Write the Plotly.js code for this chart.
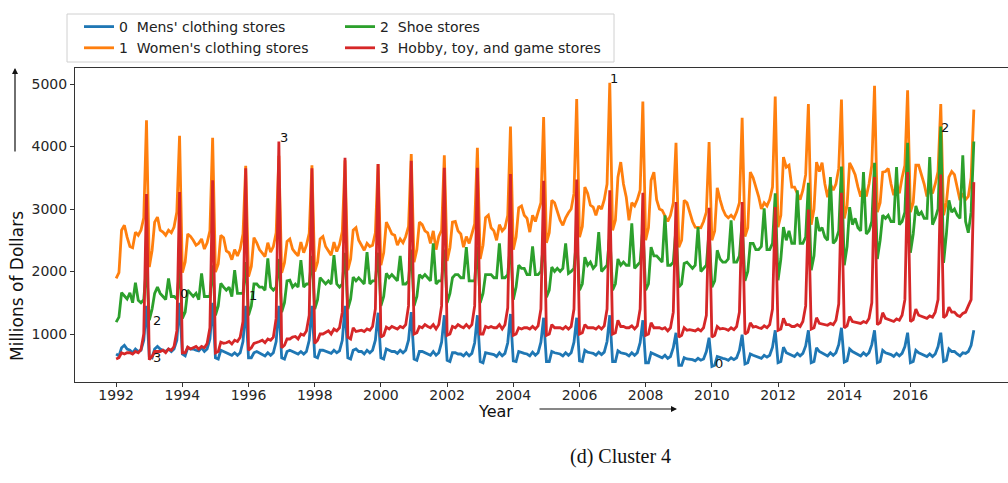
<!DOCTYPE html>
<html><head><meta charset="utf-8">
<script src="https://cdn.plot.ly/plotly-3.0.1.min.js"></script>
<style>html,body{margin:0;padding:0;background:#fff;overflow:hidden}#chart{width:1008px;height:483px}</style>
</head><body><div id="chart"></div>
<script>
// ---- data (monthly, Jan..Dec, millions of dollars) ----
const years = [1992,1993,1994,1995,1996,1997,1998,1999,2000,2001,2002,2003,2004,2005,2006,2007,2008,2009,2010,2011,2012,2013,2014,2015,2016,2017];
const seriesNames = ["0\u00a0\u00a0Mens' clothing stores", "1\u00a0\u00a0Women's clothing stores", "2\u00a0\u00a0Shoe stores", "3\u00a0\u00a0Hobby, toy, and game stores"];
const tickYears = [1992,1994,1996,1998,2000,2002,2004,2006,2008,2010,2012,2014,2016];
const yTicks = [1000,2000,3000,4000,5000];

const mens = [
 680,650,780,820,760,740,700,760,720,740,900,1450,
 640,620,760,800,760,740,720,760,720,760,900,1500,
 680,650,780,760,760,740,730,780,720,760,920,1500,
 620,600,740,720,700,680,660,700,660,700,880,1450,
 620,620,700,720,700,680,650,700,660,700,880,1450,
 620,600,720,740,720,700,680,720,680,720,900,1450,
 640,620,740,740,720,700,690,740,700,730,900,1450,
 620,600,740,760,720,720,680,740,700,740,900,1340,
 620,600,760,740,720,720,690,740,700,740,900,1350,
 600,580,720,720,700,690,660,720,660,700,870,1300,
 580,560,700,700,680,680,650,700,650,690,860,1300,
 560,540,700,690,680,670,640,700,650,690,860,1320,
 570,560,720,700,690,680,650,710,660,700,870,1260,
 560,560,720,700,690,680,650,700,660,700,870,1260,
 570,560,740,710,700,690,660,710,670,710,880,1300,
 560,560,730,700,690,680,650,700,660,700,860,1220,
 540,540,700,680,660,650,620,660,610,640,780,1020,
 500,500,620,600,600,590,570,610,580,600,720,940,
 480,500,640,620,610,600,580,620,590,620,740,990,
 520,540,680,660,640,630,610,660,630,660,790,1060,
 540,560,790,700,680,660,640,690,650,690,810,1060,
 540,560,780,720,700,680,650,700,660,700,830,1100,
 550,570,760,720,700,680,650,700,660,700,830,1060,
 540,560,740,700,690,670,640,690,650,690,800,1020,
 540,560,740,700,680,660,640,680,640,680,800,1020,
 560,580,760,720,720,680,650,700,690,720,820,1060
];
const womens = [
 1890,1980,2660,2740,2550,2400,2380,2630,2580,2660,2860,4420,
 2070,2340,2790,2870,2660,2630,2580,2660,2620,2710,2950,4170,
 1980,2150,2600,2560,2500,2420,2450,2520,2360,2460,2650,4140,
 1990,2120,2580,2540,2330,2300,2190,2350,2250,2360,2600,3690,
 1920,2080,2540,2460,2350,2290,2240,2460,2310,2400,2620,3850,
 1980,2140,2480,2520,2360,2300,2250,2470,2300,2420,2610,3700,
 2000,2150,2520,2560,2400,2330,2260,2470,2320,2430,2640,3780,
 2020,2200,2660,2700,2500,2420,2340,2450,2400,2420,2620,3720,
 2100,2300,2790,2700,2600,2580,2420,2520,2460,2560,2720,3880,
 2150,2350,2790,2750,2650,2620,2450,2650,2350,2560,2660,3860,
 2170,2380,2790,2800,2650,2600,2390,2560,2450,2600,2760,3980,
 2200,2420,2860,2900,2700,2650,2500,2750,2650,2700,2900,4320,
 2350,2550,3020,3050,2900,2850,2630,2900,2800,2950,3100,4470,
 2460,2620,3140,3100,2950,2820,2740,2860,2940,3000,3250,4760,
 2550,2720,3350,3250,3060,3030,2900,3050,3000,3150,3400,5020,
 2660,2820,3510,3750,3400,3190,2820,3100,3050,3150,3300,4720,
 2500,2700,3460,3590,3150,3000,2980,2900,2800,2900,3100,4060,
 2390,2500,3140,3100,2950,2800,2710,2700,2700,2800,2950,4070,
 2500,2650,3340,3150,3000,2900,2860,2900,2850,2950,3100,4460,
 2560,2700,3590,3500,3350,3200,3000,3100,3050,3150,3350,4800,
 2710,2900,3830,3670,3700,3350,3350,3250,3150,3300,3550,4680,
 2750,3000,3750,3600,3740,3400,3190,3400,3300,3400,3650,4750,
 2850,3050,3740,3650,3550,3350,3200,3350,3200,3400,3700,4970,
 2950,3100,3590,3600,3650,3400,3220,3400,3250,3500,3700,4900,
 2950,3100,3700,3700,3550,3400,3200,3300,3250,3400,3600,4680,
 2900,3100,3510,3600,3550,3350,3140,3250,3150,3200,3500,4590
];
const shoes = [
 1190,1270,1660,1600,1560,1660,1500,1820,1540,1500,1550,2100,
 1220,1400,1650,1750,1650,1600,1550,1890,1600,1600,1560,2050,
 1250,1350,1700,1650,1600,1650,1550,1970,1600,1600,1600,2100,
 1300,1450,1810,1750,1700,1750,1600,2020,1650,1650,1650,2150,
 1300,1450,1800,1800,1750,1750,1700,2210,1750,1700,1750,2200,
 1350,1500,1850,1860,1750,1800,1750,2180,1750,1800,1800,2250,
 1400,1550,1900,1850,1800,1850,1800,2260,1800,1750,1800,2300,
 1400,1560,1910,1850,1900,1850,1800,2310,1800,1850,1850,2300,
 1450,1600,1970,1900,1950,1900,1850,2250,1800,1800,1850,2350,
 1450,1600,1950,1900,1950,1900,1850,2450,1800,1850,1850,2350,
 1500,1650,1900,1950,1950,1900,1900,2390,1850,1850,1850,2400,
 1500,1650,1950,1950,1950,1900,1900,2450,1900,1900,1950,2450,
 1550,1750,2100,2050,2050,1950,1950,2400,1950,1950,2000,2500,
 1590,1700,2070,2000,2050,2000,2050,2450,1970,2000,2050,2550,
 1700,1800,2230,2100,2150,2050,2100,2630,2000,2050,2100,2600,
 1700,1800,2200,2100,2150,2100,2100,2770,2050,2100,2150,2700,
 1700,1800,2390,2250,2250,2200,2150,2900,2100,2100,2150,2700,
 1750,1800,2130,2150,2100,2050,2100,2710,2000,2050,2100,2650,
 1750,1850,2340,2200,2150,2150,2200,2820,2150,2150,2250,2800,
 1850,2000,2450,2450,2350,2350,2400,3010,2350,2350,2450,3250,
 1860,2200,2710,2500,2650,2450,2450,3300,2450,2450,2550,3420,
 2020,2250,2870,2650,2700,2550,2500,3510,2450,2500,2650,3680,
 2100,2400,3030,2750,2850,2700,2650,3590,2600,2650,2800,3740,
 2200,2500,2900,2850,2900,2800,2800,3670,2750,2800,2950,4060,
 2300,2600,3050,2900,2950,2850,2850,3830,2750,2850,3000,4320,
 2140,2600,3140,2950,3000,2900,2850,3860,2800,2620,2950,4080
];
const hobby = [
 600,620,700,680,700,700,680,720,700,750,1000,3240,
 590,640,720,720,720,740,700,760,740,800,1050,3270,
 700,700,790,760,780,800,760,800,780,850,1100,3460,
 700,720,870,850,860,880,840,900,880,950,1200,3650,
 740,780,850,860,880,900,860,920,900,950,1250,4080,
 780,820,920,920,950,960,920,1000,980,1050,1300,3650,
 850,900,1000,1000,1020,1050,1000,1080,1050,1100,1350,3820,
 950,920,1100,1040,1050,1060,1040,1080,1060,1120,1400,3720,
 950,980,1110,1080,1120,1100,1080,1120,1100,1150,1450,3770,
 1000,1020,1120,1100,1150,1120,1100,1150,1080,1150,1450,3660,
 980,1000,1120,1100,1150,1120,1100,1150,1100,1150,1450,3660,
 1000,1000,1120,1100,1120,1100,1100,1150,1080,1150,1420,3560,
 980,1000,1100,1080,1100,1100,1080,1120,1080,1130,1400,3450,
 980,1000,1150,1100,1100,1100,1080,1120,1080,1120,1400,3470,
 1000,1020,1150,1100,1100,1100,1080,1120,1080,1130,1400,3300,
 1000,1020,1220,1120,1120,1100,1100,1130,1080,1130,1400,3260,
 980,1000,1180,1100,1100,1100,1080,1100,1050,1100,1350,3110,
 950,980,1100,1060,1070,1060,1050,1080,1050,1100,1300,3020,
 950,980,1120,1080,1090,1080,1060,1100,1070,1120,1350,3110,
 1000,1030,1180,1110,1120,1100,1090,1130,1100,1150,1400,3030,
 1060,1080,1250,1150,1150,1120,1120,1150,1120,1200,1450,2990,
 1080,1100,1260,1170,1160,1140,1140,1170,1150,1220,1480,3260,
 1100,1130,1280,1200,1190,1170,1170,1200,1180,1250,1500,3510,
 1150,1180,1340,1250,1230,1210,1200,1240,1220,1300,1550,3590,
 1200,1230,1400,1300,1280,1260,1250,1290,1270,1350,1550,3550,
 1260,1300,1430,1350,1350,1300,1280,1330,1350,1450,1550,3430
];
const seriesValues = [mens, womens, shoes, hobby];
const colors = ['#1f77b4','#ff7f0e','#2ca02c','#d62728'];

// ---- build ----
const dates = [];
years.forEach(y => { for (let m = 1; m <= 12; m++) dates.push(y + '-' + String(m).padStart(2,'0') + '-01'); });
const font = 'DejaVu Sans, sans-serif';

const traces = seriesValues.map((vals, i) => ({
  type: 'scatter', mode: 'lines', x: dates, y: vals, name: seriesNames[i],
  line: {color: colors[i], width: 2.8},
  legend: i < 2 ? 'legend' : 'legend2',
  hoverinfo: 'skip'
}));

const W = 933, H = 314, L = 75, T = 68;
const px = x => (x - L) / W;
const py = y => (T + H - y) / H;

const legendBase = {
  xanchor: 'left', yanchor: 'top', y: py(11), orientation: 'v',
  bgcolor: 'rgba(0,0,0,0)', borderwidth: 0, tracegroupgap: 0,
  font: {family: font, size: 14, color: '#222'}, itemwidth: 30
};

const lblFont = {family: font, size: 13, color: '#111'};
const labels = [
  ['1', '2007-01-19', 5096], ['3', '1997-01-30', 4152], ['0', '1994-01-19', 1656],
  ['1', '1996-02-21', 1624], ['2', '1993-03-28', 1224], ['3', '1993-03-28', 632],
  ['0', '2010-03-21', 536], ['2', '2017-01-19', 4312]
].map(a => ({text: a[0], x: a[1], y: a[2], xref: 'x', yref: 'y', showarrow: false, font: lblFont, xanchor: 'center', yanchor: 'middle'}));

const tickFont = {family: font, size: 14, color: '#262626'};
const layout = {
  width: 1008, height: 483,
  margin: {l: L, r: 0, t: T, b: 483 - T - H, pad: 0},
  paper_bgcolor: '#fff', plot_bgcolor: '#fff',
  font: {family: font, size: 13, color: '#262626'},
  showlegend: true,
  legend: Object.assign({}, legendBase, {x: px(79)}),
  legend2: Object.assign({}, legendBase, {x: px(340)}),
  xaxis: {
    type: 'date', range: ['1990-10-04', '2018-12-13'],
    tickmode: 'array', tickvals: tickYears.map(y => y + '-01-01'), ticktext: tickYears.map(String),
    ticks: 'outside', ticklen: 4, tickcolor: '#333', tickfont: tickFont, ticklabelstandoff: -4,
    showline: true, linecolor: '#333', linewidth: 1, mirror: true,
    showgrid: false, zeroline: false
  },
  yaxis: {
    range: [232, 5256], tickmode: 'array', tickvals: yTicks, ticktext: yTicks.map(String),
    ticks: 'outside', ticklen: 4, tickcolor: '#333', tickfont: tickFont,
    showline: true, linecolor: '#333', linewidth: 1, mirror: false,
    showgrid: false, zeroline: false
  },
  shapes: [
    {type: 'rect', xref: 'paper', yref: 'paper', x0: px(67), x1: px(614), y0: py(62), y1: py(14),
     line: {color: '#d0d0d0', width: 1}, fillcolor: 'rgba(255,255,255,0.85)', layer: 'above'}
  ],
  annotations: labels.concat([
    {text: 'Millions of Dollars', textangle: -90, xref: 'paper', yref: 'paper', x: px(17), y: py(286),
     showarrow: false, font: {family: font, size: 17, color: '#111'}, xanchor: 'center', yanchor: 'middle'},
    {text: '', xref: 'paper', yref: 'paper', x: px(15), y: py(68), ax: 0, ay: 85, axref: 'pixel', ayref: 'pixel',
     showarrow: true, arrowhead: 2, arrowsize: 1, arrowwidth: 1.2, arrowcolor: '#111'},
    {text: 'Year', xref: 'paper', yref: 'paper', x: px(495), y: py(411),
     showarrow: false, font: {family: font, size: 16, color: '#111'}, xanchor: 'center', yanchor: 'middle'},
    {text: '', xref: 'paper', yref: 'paper', x: px(677), y: py(409), ax: -139, ay: 0, axref: 'pixel', ayref: 'pixel',
     showarrow: true, arrowhead: 2, arrowsize: 1, arrowwidth: 1.2, arrowcolor: '#111'},
    {text: '(d) Cluster 4', xref: 'paper', yref: 'paper', x: px(620), y: py(456),
     showarrow: false, font: {family: 'Liberation Serif, Times New Roman, serif', size: 20, color: '#111'}, xanchor: 'center', yanchor: 'middle'}
  ])
};

Plotly.newPlot('chart', traces, layout, {displayModeBar: false, staticPlot: true});
</script>
</body></html>
